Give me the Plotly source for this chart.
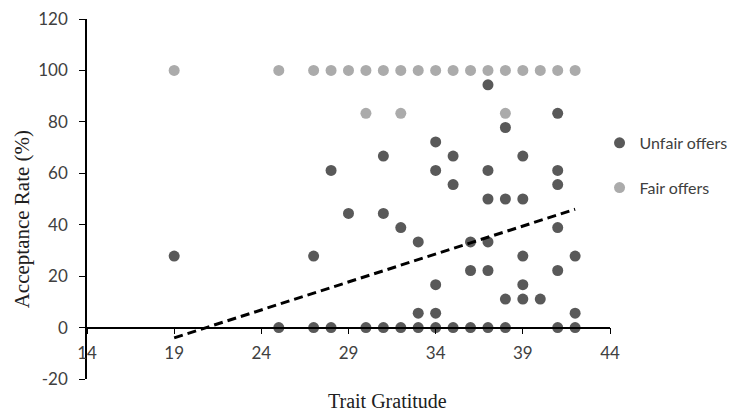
import plotly.graph_objects as go

# Fair offers (light gray)
fair_x = [19, 25, 27, 28, 29, 30, 31, 32, 33, 34, 35, 36, 37, 38, 39, 40, 41, 42, 30, 32, 38]
fair_y = [100] * 18 + [83.3, 83.3, 83.3]

# Unfair offers (dark gray)
unfair_x = [37, 41, 38, 34, 31, 35, 39, 28, 34, 37, 41, 35, 41, 37, 38, 39, 29, 31,
            32, 41, 33, 36, 37, 39, 42, 19, 27, 36, 37, 41, 34, 39, 38, 39, 40, 33, 34, 42,
            25, 27, 28, 30, 31, 32, 33, 34, 35, 36, 37, 38, 41, 42]
unfair_y = [94.4, 83.3, 77.8, 72.2, 66.7, 66.7, 66.7, 61.1, 61.1, 61.1, 61.1, 55.6, 55.6,
            50, 50, 50, 44.4, 44.4, 38.9, 38.9, 33.3, 33.3, 33.3, 27.8, 27.8, 27.8, 27.8,
            22.2, 22.2, 22.2, 16.7, 16.7, 11.1, 11.1, 11.1, 5.6, 5.6, 5.6,
            0, 0, 0, 0, 0, 0, 0, 0, 0, 0, 0, 0, 0, 0]

# Linear trend line
trend_x = [19, 42]
trend_y = [-4, 46]

x_ticks = [14, 19, 24, 29, 34, 39, 44]
y_ticks = [-20, 0, 20, 40, 60, 80, 100, 120]
y_labels = ["-20", "0", "20", "40", "60", "80", "100", "120"]

tick_font = dict(family="Lato", size=17, color="#404040")

fig = go.Figure()
fig.add_trace(go.Scatter(x=unfair_x, y=unfair_y, mode="markers", name="Unfair offers",
                         legendgroup="u",
                         marker=dict(color="#595959", size=11)))
fig.add_trace(go.Scatter(x=fair_x, y=fair_y, mode="markers", name="Fair offers",
                         legendgroup="f",
                         marker=dict(color="#ababab", size=11)))
fig.add_trace(go.Scatter(x=trend_x, y=trend_y, mode="lines", showlegend=False,
                         line=dict(color="black", width=3, dash="9px,5px")))

fig.update_layout(
    width=736, height=412,
    margin=dict(l=87, r=126, t=19, b=33, autoexpand=False),
    plot_bgcolor="white", paper_bgcolor="white",
    legend=dict(x=0.98, y=0.703, xanchor="left", yanchor="top",
                font=dict(family="Lato", size=16, color="#404040"),
                tracegroupgap=21, traceorder="grouped", itemwidth=30),
    xaxis=dict(range=[14, 44], tickvals=x_ticks, showgrid=False, zeroline=False,
               showline=True, linecolor="black", linewidth=1.5,
               ticks="outside", ticklen=6, tickcolor="black", automargin=False,
               anchor="free", position=20 / 140, tickfont=tick_font,
               ticklabelstandoff=4),
    yaxis=dict(range=[-20, 120], tickvals=y_ticks, ticktext=y_labels,
               showgrid=False, zeroline=False,
               showline=True, linecolor="black", linewidth=1.5, automargin=False,
               ticks="outside", ticklen=6, tickcolor="black", tickfont=tick_font,
               ticklabelstandoff=8),
    annotations=[
        dict(text="Trait Gratitude", xref="paper", yref="paper", x=0.574, y=-0.061,
             xanchor="center", yanchor="middle", showarrow=False,
             font=dict(family="Liberation Serif", size=20, color="#202020")),
        dict(text="Acceptance Rate (%)", xref="paper", yref="paper", x=-0.124, y=0.444,
             xanchor="center", yanchor="middle", showarrow=False, textangle=-90,
             font=dict(family="Liberation Serif", size=21, color="#202020")),
    ],
)

fig.write_html("out.html", config={"displayModeBar": False},
               post_script="document.body.style.margin='0';document.body.style.overflow='hidden';")
